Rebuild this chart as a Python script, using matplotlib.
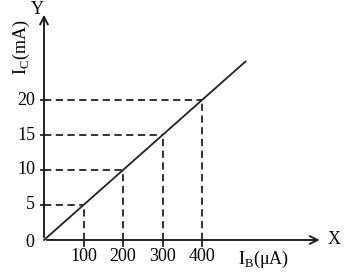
import matplotlib.pyplot as plt

plt.rcParams['font.family'] = ['Liberation Serif', 'DejaVu Serif']

ib = [100, 200, 300, 400]
ic = [5, 10, 15, 20]
line_x = [0, 510]
line_y = [0, 25.5]

fig = plt.figure(figsize=(3.64, 2.74), dpi=100)
ax = fig.add_axes([0, 0, 1, 1])
ax.set_xlim(-111.4, 810)
ax.set_ylim(-4.86, 34.29)
ax.axis('off')

# axes with arrows
ax.annotate('', xy=(705, 0), xytext=(0, 0),
            arrowprops=dict(arrowstyle='->', lw=1.4, color='#222222', mutation_scale=14))
ax.annotate('', xy=(0, 32.6), xytext=(0, 0),
            arrowprops=dict(arrowstyle='->', lw=1.4, color='#222222', mutation_scale=14))

# characteristic line
ax.plot(line_x, line_y, color='#222222', lw=1.3)

# dashed guides
for x, y in zip(ib, ic):
    ax.plot([0, x], [y, y], color='#222222', lw=1.3, ls=(0, (4, 2.5)))
    ax.plot([x, x], [0, y], color='#222222', lw=1.3, ls=(0, (4, 2.5)))
    ax.plot([-8, 0], [y, y], color='#222222', lw=1.3)
    ax.plot([x, x], [-0.9, 0], color='#222222', lw=1.3)
    ax.text(x, -1.2, str(x), ha='center', va='top', fontsize=13)
    ax.text(-22, y, str(y), ha='right', va='center', fontsize=13)

ax.text(-24, -0.3, '0', ha='right', va='center', fontsize=13)
ax.text(718, 0, 'X', ha='left', va='center', fontsize=13)
ax.text(-18, 33.0, 'Y', ha='center', va='center', fontsize=13)
ax.text(555, -1.2, r'I$_\mathregular{B}$($\mathregular{\mu}$A)', ha='center', va='top', fontsize=13)
ax.text(-56, 27.5, r'I$_\mathregular{C}$(mA)', ha='center', va='center', rotation=90, fontsize=13)

fig.savefig('out.png', dpi=100)
